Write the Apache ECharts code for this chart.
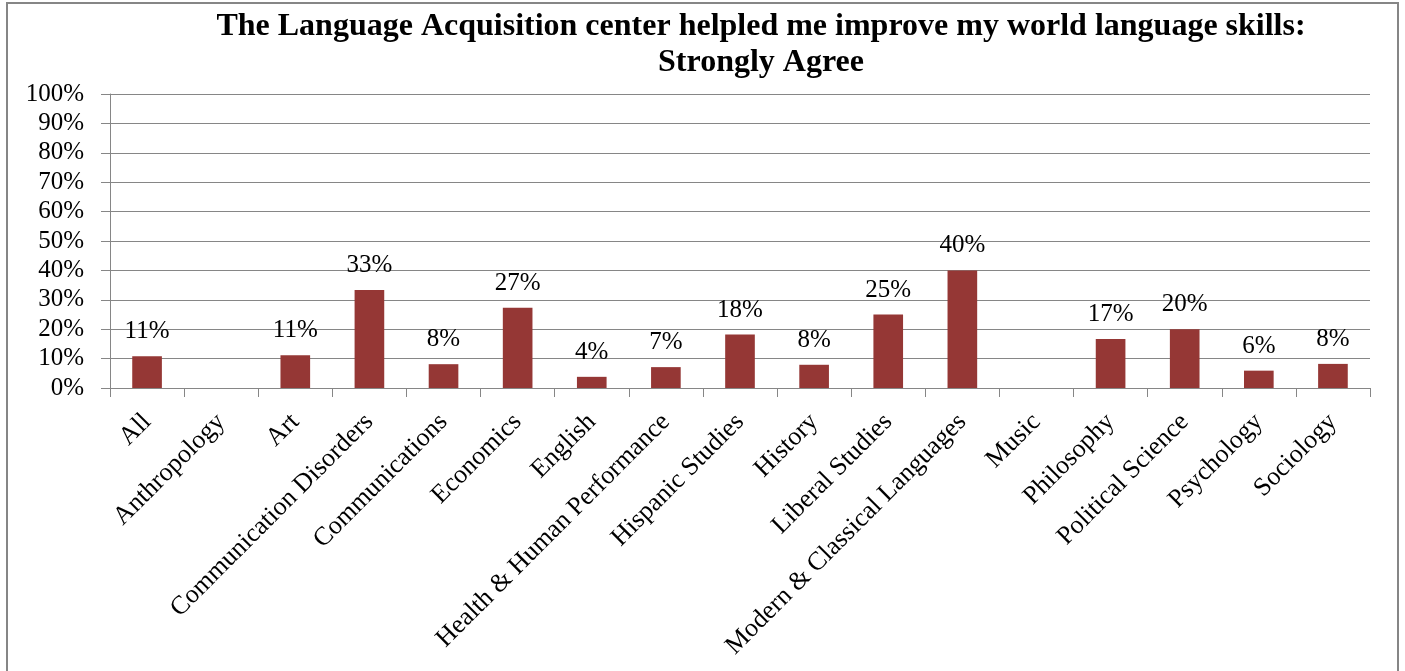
<!DOCTYPE html>
<html>
<head>
<meta charset="utf-8">
<script src="https://cdn.jsdelivr.net/npm/echarts@6/dist/echarts.min.js"></script>
<style>
html,body{margin:0;padding:0;background:#fff;}
#chart{width:1405px;height:671px;}
</style>
</head>
<body>
<div id="chart"></div>
<script>
const titleText = "The Language Acquisition center helpled me improve my world language skills:\nStrongly Agree";
const categories = ["All","Anthropology","Art","Communication Disorders","Communications","Economics","English","Health & Human Performance","Hispanic Studies","History","Liberal Studies","Modern & Classical Languages","Music","Philosophy","Political Science","Psychology","Sociology"];
const values = [10.8, null, 11.1, 33.3, 8.1, 27.3, 3.8, 7.1, 18.2, 7.9, 25.0, 40.0, null, 16.7, 20.0, 5.9, 8.2];
const yMin = 0, yMax = 100, yStep = 10;

const FONT = "'Liberation Serif', 'Times New Roman', serif";
const GRAY = '#868686';
const chart = echarts.init(document.getElementById('chart'), null, {renderer:'canvas'});
chart.setOption({
  animation: false,
  backgroundColor: '#fff',
  title: {
    text: titleText,
    left: 761,
    textAlign: 'center',
    top: 9,
    padding: 0,
    textStyle: {fontFamily: FONT, fontWeight: 'bold', fontSize: 32, lineHeight: 36, color: '#000'}
  },
  graphic: [{
    type: 'rect', silent: true,
    shape: {x: 7, y: 3, width: 1391, height: 720},
    style: {fill: 'none', stroke: GRAY, lineWidth: 2}
  }],
  grid: {left: 110, right: 35, top: 94, bottom: 283, containLabel: false},
  xAxis: {
    type: 'category',
    data: categories,
    boundaryGap: true,
    axisLine: {show: true, lineStyle: {color: GRAY, width: 1}},
    axisTick: {show: true, length: 9, alignWithLabel: false, lineStyle: {color: GRAY}},
    axisLabel: {interval: 0, rotate: 45, margin: 30, fontFamily: FONT, fontSize: 26, color: '#000'}
  },
  yAxis: {
    type: 'value',
    min: yMin, max: yMax, interval: yStep,
    axisLine: {show: true, lineStyle: {color: GRAY, width: 1}},
    axisTick: {show: true, length: 9, lineStyle: {color: GRAY}},
    splitLine: {show: true, lineStyle: {color: GRAY, width: 1}},
    axisLabel: {formatter: '{value}%', margin: 26, fontFamily: FONT, fontSize: 25, color: '#000'}
  },
  series: [{
    type: 'bar',
    data: values,
    barWidth: '40%',
    itemStyle: {color: '#953735'},
    label: {
      show: true, position: 'top', distance: 12,
      fontFamily: FONT, fontSize: 25, color: '#000',
      formatter: p => (p.value == null ? '' : Math.round(p.value) + '%')
    }
  }]
});
</script>
</body>
</html>
